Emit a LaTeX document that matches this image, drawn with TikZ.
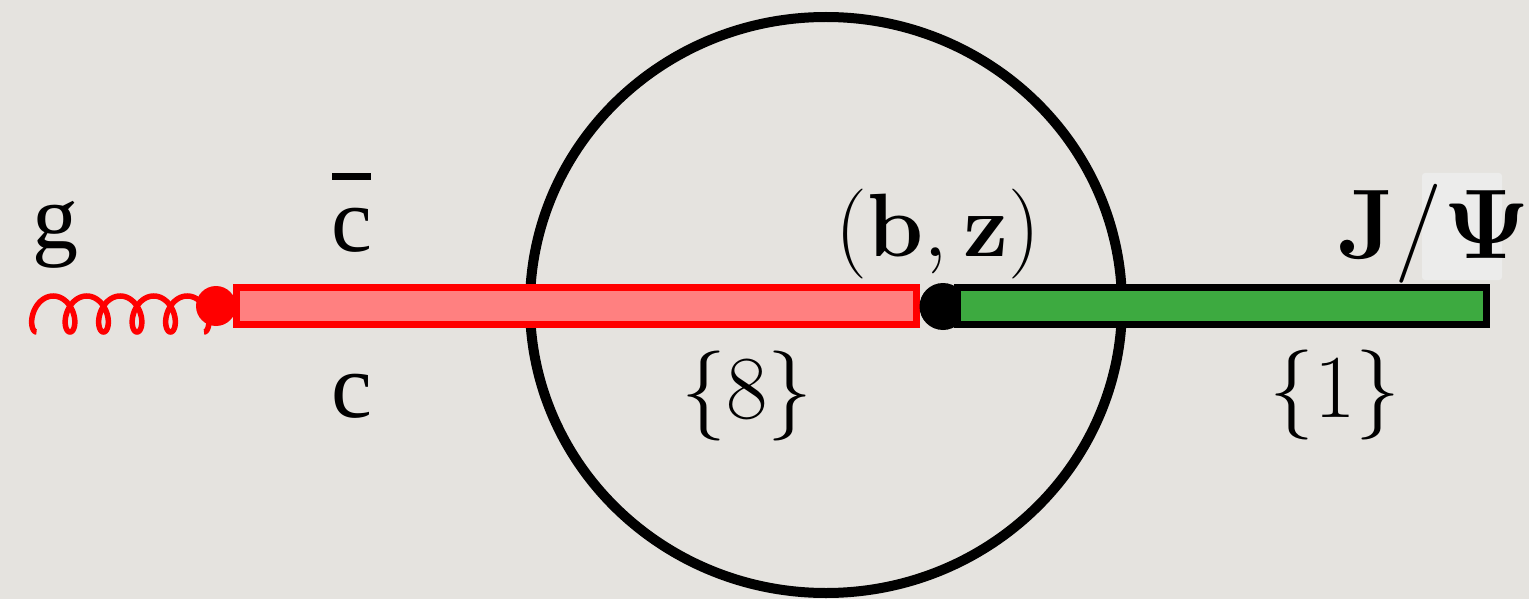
\RequirePackage{fix-cm}
\documentclass[tikz,border=0pt]{standalone}
\usepackage[no-math]{fontspec}
\newfontfamily\timesfont{Liberation Serif}
\usepackage{tikz}
\usetikzlibrary{positioning}
\definecolor{paperbg}{RGB}{229,227,223}
\definecolor{patchbg}{RGB}{236,236,235}
\definecolor{octetfill}{RGB}{255,128,128}
\definecolor{singletfill}{RGB}{61,170,64}

\begin{document}
\begin{tikzpicture}[
  x=1pt, y=-1pt,
  quark/.style={anchor=base, inner sep=0pt, font=\timesfont\fontsize{92}{100}\selectfont},
  mathlbl/.style={anchor=base, inner sep=0pt, font=\fontsize{90}{98}\selectfont},
  octet/.style={draw=red, fill=octetfill, line width=7.5pt, minimum width=680pt,
               minimum height=37pt, inner sep=0pt},
  singlet/.style={draw=black, fill=singletfill, line width=7.5pt, minimum width=529pt,
               minimum height=37pt, inner sep=0pt},
  vertex/.style={circle, minimum size=#1, inner sep=0pt},
  gluon/.style={red, line width=5.5pt},
]
% background and frame
\fill[paperbg] (0,0) rectangle (1529,599);
\useasboundingbox (0,0) rectangle (1529,599);

% --- the ring ---
\draw[line width=10pt] (826,305) ellipse [x radius=296pt, y radius=288pt];

% --- gluon and colour octet ---
\draw[gluon] plot[domain=-180:1620, samples=361, variable=\t]
  ({53.25+(\t/360)*33.5+12*sin(\t)}, {314-18*cos(\t)});
\node[vertex=40pt, fill=red] (gv) at (216,306) {};
\node[octet] (oct) at (576.5,306) {};

% --- singlet ---
\node[vertex=47pt, fill=black] (bz) at (943,306.5) {};
\node[singlet] (sing) at (1222,306) {};

% Labels
\node[quark] (g) at (55,248) {g};
\node[quark] (cbar) at (352,251) {\rlap{\raisebox{0.77em}{\rule{0.43em}{0.076em}}}c};
\node[quark] (c) at (352,417) {c};
\node[mathlbl] (bzlbl) at (938,256) {$(\mathbf{b},\mathbf{z})$};
\node[mathlbl] (eight) at (747,418) {$\{8\}$};
\node[mathlbl] (one) at (1335,417) {$\{1\}$};

\fill[patchbg, rounded corners=3pt] (1422,173) rectangle (1502,280);
\node[anchor=base west, inner sep=0pt, font=\fontsize{99}{106}\selectfont] (jpsi) at (1337,258)
  {$\mathbf{J}/\mathbf{\Psi}$};
\end{tikzpicture}
\end{document}
